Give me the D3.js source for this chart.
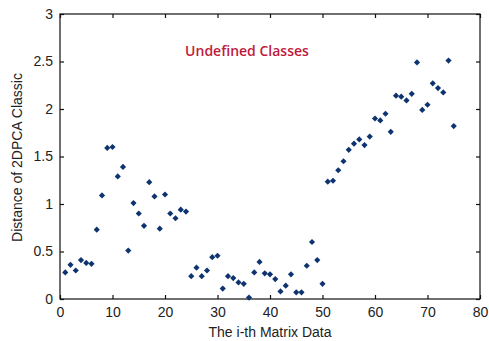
<!DOCTYPE html>
<html>
<head>
<meta charset="utf-8">
<script src="https://cdn.jsdelivr.net/npm/d3@7"></script>
<style>
  html, body { margin: 0; padding: 0; background: #fff; }
  svg { display: block; }
</style>
</head>
<body>
<svg id="chart" width="489" height="341"></svg>
<script>
const distance = [
  0.28, 0.36, 0.30, 0.41, 0.38, 0.37, 0.73, 1.09, 1.59, 1.60,
  1.29, 1.39, 0.51, 1.01, 0.90, 0.77, 1.23, 1.08, 0.74, 1.10,
  0.90, 0.85, 0.94, 0.92, 0.24, 0.33, 0.24, 0.30, 0.44, 0.455,
  0.11, 0.24, 0.22, 0.175, 0.16, 0.015, 0.28, 0.39, 0.27, 0.26,
  0.21, 0.08, 0.14, 0.26, 0.07, 0.07, 0.35, 0.60, 0.41, 0.16,
  1.235, 1.245, 1.355, 1.45, 1.57, 1.635, 1.68, 1.62, 1.71, 1.90,
  1.88, 1.95, 1.76, 2.14, 2.13, 2.09, 2.16, 2.49, 1.99, 2.045,
  2.27, 2.22, 2.175, 2.51, 1.82
];
const matrixIndex = distance.map((_, i) => i + 1);
const xTicks = [0, 10, 20, 30, 40, 50, 60, 70, 80];
const yTicks = [0, 0.5, 1, 1.5, 2, 2.5, 3];
const titleText = "Undefined Classes";
const xLabel = "The i-th Matrix Data";
const yLabel = "Distance of 2DPCA Classic";

(function () {
const svg = d3.select("#chart");
const mLeft = 60, mRight = 480, mTop = 14, mBottom = 299;
const x = d3.scaleLinear().domain([0, 80]).range([mLeft, mRight]);
const y = d3.scaleLinear().domain([0, 3]).range([mBottom, mTop]);
const font = "'Liberation Sans', Arial, sans-serif";

svg.append("rect")
  .attr("x", mLeft).attr("y", mTop)
  .attr("width", mRight - mLeft).attr("height", mBottom - mTop)
  .attr("fill", "none").attr("stroke", "#111").attr("stroke-width", 1.2);

const tickLen = 4;
const xAxis = svg.append("g").attr("transform", `translate(0,${mBottom})`)
  .call(d3.axisBottom(x).tickValues(xTicks).tickSize(-tickLen).tickPadding(8).tickFormat(d3.format("d")));
const xAxisTop = svg.append("g").attr("transform", `translate(0,${mTop})`)
  .call(d3.axisTop(x).tickValues(xTicks).tickSize(-tickLen).tickFormat(""));
const yAxis = svg.append("g").attr("transform", `translate(${mLeft},0)`)
  .call(d3.axisLeft(y).tickValues(yTicks).tickSize(-tickLen).tickPadding(7).tickFormat(d => String(d)));
const yAxisRight = svg.append("g").attr("transform", `translate(${mRight},0)`)
  .call(d3.axisRight(y).tickValues(yTicks).tickSize(-tickLen).tickFormat(""));

[xAxis, xAxisTop, yAxis, yAxisRight].forEach(g => {
  g.select(".domain").remove();
  g.selectAll(".tick line").attr("stroke", "#111").attr("stroke-width", 1.2);
  g.selectAll("text").attr("font-family", font).attr("font-size", 14).attr("fill", "#222");
});

const marker = d3.symbol().type(d3.symbolSquare).size(19);
svg.append("g").selectAll("path")
  .data(matrixIndex.map((m, i) => ({ m, v: distance[i] })))
  .join("path")
  .attr("d", marker)
  .attr("transform", d => `translate(${x(d.m)},${y(d.v)}) rotate(45)`)
  .attr("fill", "#0e3470");

svg.append("text")
  .attr("x", 247).attr("y", 56)
  .attr("text-anchor", "middle")
  .attr("font-family", "'Open Sans', sans-serif")
  .attr("font-size", 14)
  .attr("font-weight", 600)
  .attr("fill", "#c01a3c")
  .text(titleText);

svg.append("text")
  .attr("x", (mLeft + mRight) / 2).attr("y", 337)
  .attr("text-anchor", "middle")
  .attr("font-family", font).attr("font-size", 14).attr("fill", "#222")
  .text(xLabel);

svg.append("text")
  .attr("transform", `translate(22,${(mTop + mBottom) / 2 + 1}) rotate(-90)`)
  .attr("text-anchor", "middle")
  .attr("font-family", font).attr("font-size", 14).attr("fill", "#222")
  .text(yLabel);
})();
</script>
</body>
</html>
